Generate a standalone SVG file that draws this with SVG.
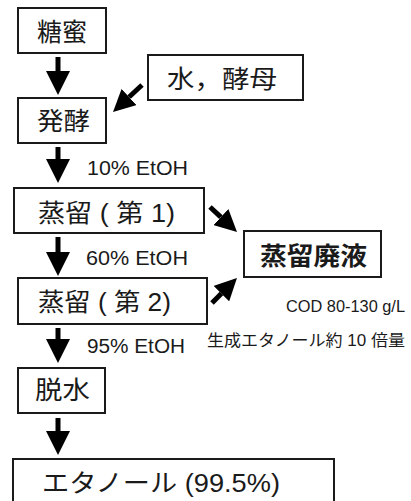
<svg xmlns="http://www.w3.org/2000/svg" width="411" height="501" viewBox="0 0 411 501">
<style>
.box{fill:#fff;stroke:#1a1a1a;stroke-width:2}
.lbl{font-family:"Liberation Sans","Noto Sans CJK JP",sans-serif;font-size:25px;fill:#1a1a1a}
.sm{font-family:"Liberation Sans","Noto Sans CJK JP",sans-serif;font-size:20px;fill:#1a1a1a}
.xs{font-family:"Liberation Sans","Noto Sans CJK JP",sans-serif;font-size:16px;fill:#1a1a1a}
.arr{stroke:#000;stroke-width:5;fill:none}
</style>
<defs>
<marker id="head" viewBox="0 0 24 24" markerWidth="24" markerHeight="24" refX="0" refY="12" orient="auto" markerUnits="userSpaceOnUse"><path d="M0,0 L24,12 L0,24 z" fill="#000"/></marker>
<marker id="headS" viewBox="0 0 22 22" markerWidth="22" markerHeight="22" refX="0" refY="11" orient="auto" markerUnits="userSpaceOnUse"><path d="M0,0 L22,11 L0,22 z" fill="#000"/></marker>
</defs>
<rect width="411" height="501" fill="#fff"/>
<g id="connectors">
<line class="arr" x1="58" y1="57" x2="58" y2="71" marker-end="url(#head)"/>
<line class="arr" x1="142" y1="85" x2="129.1" y2="97" marker-end="url(#headS)"/>
<line class="arr" x1="58" y1="147" x2="58" y2="159" marker-end="url(#head)"/>
<line class="arr" x1="58" y1="237" x2="58" y2="252" marker-end="url(#head)"/>
<line class="arr" x1="210" y1="207" x2="220.9" y2="217.1" marker-end="url(#headS)"/>
<line class="arr" x1="212" y1="303" x2="221.4" y2="293.6" marker-end="url(#headS)"/>
<line class="arr" x1="58" y1="328" x2="58" y2="339" marker-end="url(#head)"/>
<line class="arr" x1="58" y1="418" x2="58" y2="431" marker-end="url(#head)"/>
<text class="sm" x="87" y="175" textLength="101" lengthAdjust="spacingAndGlyphs">10% EtOH</text>
<text class="sm" x="86" y="265" textLength="102" lengthAdjust="spacingAndGlyphs">60% EtOH</text>
<text class="sm" x="87" y="353" textLength="98" lengthAdjust="spacingAndGlyphs">95% EtOH</text>
</g>
<g id="n1"><rect class="box" x="18" y="8" width="88" height="45"/><text class="lbl" x="62" y="41" text-anchor="middle">糖蜜</text></g>
<g id="n2"><rect class="box" x="148" y="55" width="155" height="45"/><text class="lbl" x="167" y="88" textLength="110" lengthAdjust="spacingAndGlyphs">水，酵母</text></g>
<g id="n3"><rect class="box" x="18" y="98" width="88" height="45"/><text class="lbl" x="37" y="130" textLength="53" lengthAdjust="spacingAndGlyphs">発酵</text></g>
<g id="n4"><rect class="box" x="14" y="188" width="190" height="45"/><text class="lbl" x="38" y="222" textLength="137" lengthAdjust="spacingAndGlyphs">蒸留 ( 第 1)</text></g>
<g id="n5"><rect class="box" x="18" y="278" width="189" height="46"/><text class="lbl" x="38" y="311" textLength="133" lengthAdjust="spacingAndGlyphs">蒸留 ( 第 2)</text></g>
<g id="n6"><rect class="box" x="244" y="231" width="137" height="46"/><text class="lbl" x="260" y="265" font-weight="bold" textLength="107" lengthAdjust="spacingAndGlyphs">蒸留廃液</text></g>
<g id="n7"><text class="xs" x="405" y="312" text-anchor="end" textLength="119" lengthAdjust="spacingAndGlyphs">COD 80-130 g/L</text>
<text class="xs" x="405" y="346" text-anchor="end" textLength="198" lengthAdjust="spacingAndGlyphs">生成エタノール約 10 倍量</text></g>
<g id="n8"><rect class="box" x="18" y="368" width="87" height="45"/><text class="lbl" x="35" y="399" textLength="55" lengthAdjust="spacingAndGlyphs">脱水</text></g>
<g id="n9"><rect class="box" x="13" y="459" width="321" height="60"/><text class="lbl" x="42" y="492" textLength="238" lengthAdjust="spacingAndGlyphs">エタノール (99.5%)</text></g>
</svg>
